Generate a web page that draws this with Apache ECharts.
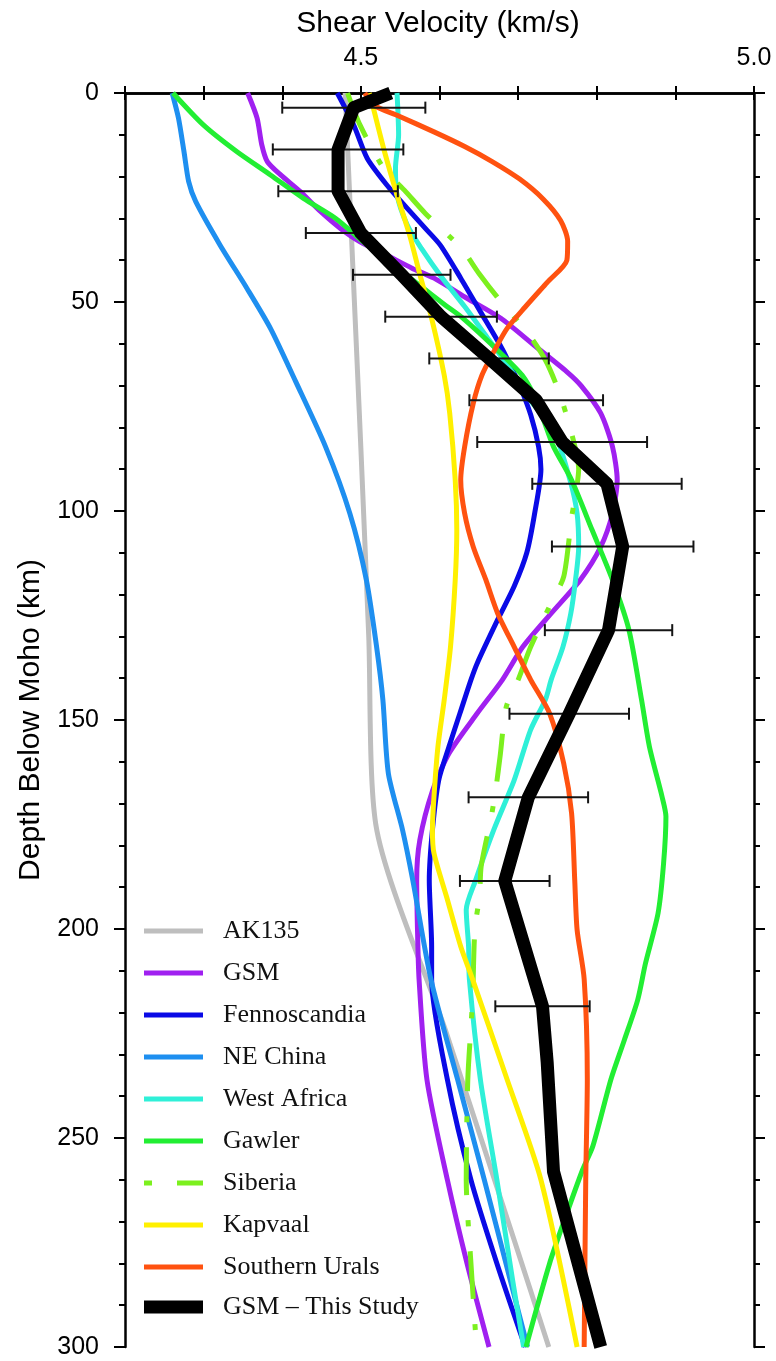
<!DOCTYPE html>
<html>
<head>
<meta charset="utf-8">
<script src="https://cdn.jsdelivr.net/npm/echarts@6/dist/echarts.min.js"></script>
<style>
  html, body { margin: 0; padding: 0; background: #fff; }
  #chart { width: 776px; height: 1361px; }
</style>
</head>
<body>
<div id="chart"></div>
<script>
// Shear-velocity profiles, depth below Moho (km) vs Vs (km/s)
const ak135Depth = [0, 42.5, 85, 130, 175, 225, 275, 300];
const ak135Vs    = [4.480, 4.490, 4.500, 4.510, 4.519, 4.609, 4.696, 4.739];

const gsmDepth = [0, 6, 12.4, 16.4, 19.6, 23.6, 28.4, 32.4, 35.6, 38.8, 41.9, 44.3, 49.1, 53.9, 60.3, 66.7, 70, 76.6, 84.6, 92.6, 100.6, 108.6, 116.5, 124.5, 132.5, 140.4, 148.4, 158, 167, 178.7, 188.3, 200, 212, 236, 260, 280, 300];
const gsmVs    = [4.356, 4.368, 4.374, 4.381, 4.398, 4.423, 4.449, 4.474, 4.499, 4.533, 4.565, 4.593, 4.635, 4.678, 4.720, 4.762, 4.780, 4.805, 4.820, 4.826, 4.820, 4.805, 4.779, 4.742, 4.706, 4.680, 4.648, 4.612, 4.591, 4.575, 4.571, 4.572, 4.574, 4.584, 4.610, 4.635, 4.663];

const fennoDepth = [0, 7.7, 15.6, 22, 27.6, 32.4, 36.4, 44.3, 52.3, 60.3, 64.3, 70, 77, 84.6, 90, 100.6, 110, 118, 126, 136.4, 140.4, 148.4, 156.4, 164.4, 176.3, 188.3, 204.2, 212, 236, 260, 280, 300];
const fennoVs    = [4.470, 4.491, 4.508, 4.533, 4.559, 4.582, 4.601, 4.627, 4.652, 4.677, 4.688, 4.702, 4.716, 4.726, 4.729, 4.721, 4.711, 4.695, 4.674, 4.648, 4.640, 4.626, 4.612, 4.599, 4.591, 4.587, 4.590, 4.590, 4.610, 4.640, 4.673, 4.709];

const chinaDepth = [0, 6, 14, 21.2, 26, 36.4, 46.7, 56.3, 69, 84.6, 100.6, 116.5, 132.5, 145.2, 162.8, 176.3, 188.3, 212, 236, 260, 284, 300];
const chinaVs    = [4.260, 4.268, 4.275, 4.281, 4.290, 4.321, 4.355, 4.385, 4.417, 4.455, 4.486, 4.507, 4.520, 4.528, 4.535, 4.553, 4.566, 4.589, 4.623, 4.657, 4.690, 4.712];

const africaDepth = [0, 10, 18, 24.4, 31.6, 37.2, 43.9, 51.1, 58.3, 65.5, 73.4, 80.6, 92.6, 100.6, 108.6, 116.5, 124.5, 132.5, 140.4, 145, 152.3, 164.4, 176.3, 188.3, 195.4, 204.2, 212, 236, 260, 284, 300];
const africaVs    = [4.546, 4.548, 4.544, 4.546, 4.559, 4.577, 4.602, 4.632, 4.660, 4.688, 4.715, 4.745, 4.766, 4.775, 4.777, 4.773, 4.767, 4.757, 4.742, 4.735, 4.716, 4.695, 4.669, 4.646, 4.634, 4.637, 4.638, 4.652, 4.673, 4.693, 4.707];

const gawlerDepth = [0, 7.7, 14, 19.6, 25.2, 30, 35.6, 41.1, 45.9, 50.7, 53.9, 61.9, 67.5, 73, 78, 84.6, 92.6, 104.5, 116.5, 128.5, 145.2, 156.4, 168.3, 173.1, 184.3, 196.2, 208.2, 217, 226.6, 236, 252, 257.6, 268, 280, 300];
const gawlerVs    = [4.261, 4.300, 4.342, 4.385, 4.427, 4.468, 4.503, 4.540, 4.574, 4.607, 4.630, 4.676, 4.705, 4.722, 4.732, 4.745, 4.768, 4.794, 4.820, 4.841, 4.857, 4.867, 4.883, 4.888, 4.885, 4.878, 4.862, 4.852, 4.835, 4.818, 4.795, 4.782, 4.762, 4.740, 4.710];

const siberiaDepth = [0, 7.7, 18, 23.6, 28.8, 37.2, 43.1, 48.7, 57.9, 64, 71, 80, 90, 95, 101.6, 115.7, 122, 132.5, 140.4, 146.8, 158.8, 166, 173, 185, 192, 200, 217, 236, 260, 280, 300];
const siberiaVs    = [4.483, 4.499, 4.529, 4.557, 4.582, 4.628, 4.650, 4.673, 4.714, 4.735, 4.751, 4.766, 4.777, 4.774, 4.768, 4.758, 4.742, 4.716, 4.700, 4.685, 4.677, 4.672, 4.666, 4.653, 4.651, 4.645, 4.642, 4.636, 4.634, 4.640, 4.647];

const kapvaalDepth = [0, 3.7, 14, 24.4, 34, 42.7, 53.9, 67.5, 76.6, 92.6, 104.6, 116.5, 132.5, 145.2, 156.4, 168.3, 176.3, 181.9, 192.3, 204.2, 212, 236, 260, 300];
const kapvaalVs    = [4.511, 4.516, 4.530, 4.546, 4.562, 4.574, 4.590, 4.606, 4.613, 4.620, 4.622, 4.620, 4.614, 4.606, 4.598, 4.593, 4.591, 4.593, 4.609, 4.627, 4.642, 4.686, 4.729, 4.775];

const uralsDepth = [0, 2.9, 5.5, 9.3, 12.8, 16.4, 20.6, 25.4, 30.5, 35.5, 40, 45.3, 51.2, 56.3, 61.9, 67.5, 74.2, 84.6, 92.6, 100.6, 108.6, 116.5, 124.5, 132.5, 140.4, 148.4, 160.4, 172.3, 188.3, 200.2, 212, 236, 260, 300];
const uralsVs    = [4.505, 4.516, 4.548, 4.593, 4.632, 4.667, 4.702, 4.732, 4.754, 4.763, 4.762, 4.737, 4.709, 4.686, 4.669, 4.654, 4.643, 4.632, 4.627, 4.632, 4.643, 4.659, 4.674, 4.695, 4.716, 4.740, 4.758, 4.768, 4.772, 4.775, 4.784, 4.788, 4.786, 4.784];

// GSM model from this study (bold curve); error bars sit on its nodes
const studyDepth = [0, 3.5, 13.5, 23.5, 33.5, 43.5, 53.5, 63.5, 73.5, 83.5, 93.5, 108.5, 128.5, 148.5, 168.5, 188.5, 218.5, 232, 258, 300];
const studyVs    = [4.538, 4.491, 4.471, 4.471, 4.500, 4.552, 4.602, 4.663, 4.723, 4.756, 4.813, 4.833, 4.815, 4.765, 4.713, 4.683, 4.731, 4.737, 4.745, 4.805];

const errDepth = [3.5, 13.5, 23.5, 33.5, 43.5, 53.5, 63.5, 73.5, 83.5, 93.5, 108.5, 128.5, 148.5, 168.5, 188.5, 218.5];
const errHalf  = [0.091, 0.083, 0.076, 0.070, 0.062, 0.071, 0.076, 0.085, 0.108, 0.095, 0.090, 0.081, 0.076, 0.076, 0.057, 0.060];

const xTicks = [4.5, 5.0];

const SANS = '"Liberation Sans", Arial, Helvetica, sans-serif';
const SERIF = '"Liberation Serif", "Times New Roman", Times, serif';

function pairs(depth, vs) {
  return vs.map((v, i) => [v, depth[i]]);
}

const profiles = [
  { name: 'AK135',          depth: ak135Depth,   vs: ak135Vs,   color: '#bebebe' },
  { name: 'GSM',            depth: gsmDepth,     vs: gsmVs,     color: '#a020f0' },
  { name: 'Fennoscandia',   depth: fennoDepth,   vs: fennoVs,   color: '#0a0ae6' },
  { name: 'NE China',       depth: chinaDepth,   vs: chinaVs,   color: '#1e8ff0' },
  { name: 'West Africa',    depth: africaDepth,  vs: africaVs,  color: '#2ff0d8' },
  { name: 'Gawler',         depth: gawlerDepth,  vs: gawlerVs,  color: '#22ee33' },
  { name: 'Siberia',        depth: siberiaDepth, vs: siberiaVs, color: '#7cf01e', dash: [48, 25, 6, 25] },
  { name: 'Kapvaal',        depth: kapvaalDepth, vs: kapvaalVs, color: '#fff000' },
  { name: 'Southern Urals', depth: uralsDepth,   vs: uralsVs,   color: '#ff5210' }
];

const series = profiles.map((p, k) => ({
  type: 'line',
  name: p.name,
  data: pairs(p.depth, p.vs),
  color: p.color,
  showSymbol: false,
  symbol: 'none',
  smooth: 0.25,
  animation: false,
  z: 2 + k * 0.01,
  lineStyle: { color: p.color, width: 5, type: p.dash || 'solid', cap: 'butt', join: 'round' }
}));

// horizontal uncertainty bars centred on the bold curve
const studyAt = d => studyVs[studyDepth.indexOf(d)];
series.push({
  type: 'custom',
  name: 'uncertainty',
  animation: false,
  z: 3,
  data: errDepth.map((d, i) => [studyAt(d) - errHalf[i], studyAt(d) + errHalf[i], d]),
  encode: { x: [0, 1], y: 2 },
  renderItem(params, api) {
    const a = api.coord([api.value(0), api.value(2)]);
    const b = api.coord([api.value(1), api.value(2)]);
    const cap = 6;
    const st = { stroke: '#151515', lineWidth: 2 };
    return {
      type: 'group',
      children: [
        { type: 'line', shape: { x1: a[0], y1: a[1], x2: b[0], y2: b[1] }, style: st },
        { type: 'line', shape: { x1: a[0], y1: a[1] - cap, x2: a[0], y2: a[1] + cap }, style: st },
        { type: 'line', shape: { x1: b[0], y1: b[1] - cap, x2: b[0], y2: b[1] + cap }, style: st }
      ]
    };
  }
});

series.push({
  type: 'line',
  name: 'GSM \u2013 This Study',
  data: pairs(studyDepth, studyVs),
  color: '#000',
  showSymbol: false,
  symbol: 'none',
  animation: false,
  z: 4,
  lineStyle: { color: '#000', width: 13, cap: 'butt', join: 'round' }
});

const axisLine = { show: true, lineStyle: { color: '#000', width: 2.5 } };
const tickStyle = { color: '#000', width: 2 };

function xAxisCfg(pos, labels) {
  return {
    type: 'value', position: pos, min: 4.2, max: 5.0, interval: 0.1,
    axisLine: axisLine,
    axisTick: { show: true, inside: false, length: 7, lineStyle: tickStyle },
    splitLine: { show: false },
    axisLabel: {
      show: labels, margin: 22, color: '#000', fontSize: 25, fontFamily: SANS,
      formatter: v => xTicks.some(t => Math.abs(t - v) < 1e-6) ? v.toFixed(1) : ''
    }
  };
}
function yAxisCfg(pos, labels) {
  return {
    type: 'value', position: pos, inverse: true, min: 0, max: 300, interval: 50,
    axisLine: axisLine,
    axisTick: { show: true, inside: false, length: 11, lineStyle: tickStyle },
    minorTick: { show: true, splitNumber: 5, length: 6, lineStyle: tickStyle },
    splitLine: { show: false },
    minorSplitLine: { show: false },
    axisLabel: { show: labels, margin: 26, color: '#000', fontSize: 25, fontFamily: SANS }
  };
}

const legendBase = {
  orient: 'vertical',
  left: 144,
  padding: 0,
  itemWidth: 59,
  selectedMode: false,
  icon: 'rect',
  itemStyle: { borderWidth: 0 },
  textStyle: { fontFamily: SERIF, fontSize: 26, color: '#111', lineHeight: 30, padding: [0, 0, 0, 15] }
};

const option = {
  backgroundColor: '#fff',
  animation: false,
  grid: { left: 125, right: 22, top: 93, bottom: 14, containLabel: false },
  xAxis: [xAxisCfg('top', true), xAxisCfg('bottom', false)],
  yAxis: [yAxisCfg('left', true), yAxisCfg('right', false)],
  legend: [
    Object.assign({}, legendBase, {
      top: 916,
      itemHeight: 5,
      itemGap: 12,
      data: profiles.map(p => p.name === 'Siberia'
        ? { name: p.name, icon: 'path://M0,0h8v5h-8zM33,0h26v5h-26z' }
        : p.name)
    }),
    Object.assign({}, legendBase, {
      top: 1292,
      itemHeight: 13,
      data: ['GSM \u2013 This Study']
    })
  ],
  graphic: [
    { type: 'text', x: 438, y: 24, silent: true,
      style: { text: 'Shear Velocity (km/s)', fontSize: 30, fontFamily: SANS, fill: '#000', align: 'center', verticalAlign: 'middle' } },
    { type: 'text', x: 31, y: 720, rotation: Math.PI / 2, silent: true,
      style: { text: 'Depth Below Moho (km)', fontSize: 30, fontFamily: SANS, fill: '#000', align: 'center', verticalAlign: 'middle' } }
  ],
  series: series
};

const chart = echarts.init(document.getElementById('chart'), null, { renderer: 'canvas' });
chart.setOption(option);
</script>
</body>
</html>
